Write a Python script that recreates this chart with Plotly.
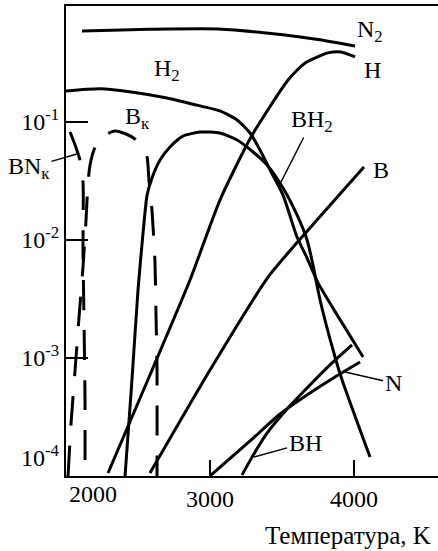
import math
import plotly.graph_objects as go

# Temperatures (K) and mole fractions
n2_t = [2111, 2583, 3056, 3521, 3750, 4007]
n2_x = [0.590, 0.610, 0.614, 0.546, 0.500, 0.441]

h2_t = [2000, 2236, 2465, 2701, 2931, 3069, 3188, 3278, 3347, 3417, 3507, 3604, 3674, 3750, 3875, 4063]
h2_x = [0.183, 0.191, 0.179, 0.160, 0.137, 0.124, 0.104, 0.0807, 0.0579, 0.0392, 0.0240, 0.0106, 0.00703, 0.00433, 0.00240, 0.00102]

bh2_t = [2410, 2458, 2500, 2535, 2563, 2597, 2653, 2722, 2812, 2931, 3069, 3188, 3299, 3396, 3507, 3604, 3674, 3715, 3764, 3868, 3917, 4111]
bh2_x = [1.0e-4, 6.52e-4, 3.77e-3, 0.0115, 0.0240, 0.0335, 0.0476, 0.0614, 0.0760, 0.0822, 0.0807, 0.0703,
         0.0557, 0.0432, 0.0276, 0.0163, 0.0100, 0.00614, 0.00310, 0.00102, 6.52e-4, 1.45e-4]

h_t = [2292, 2583, 2861, 3069, 3285, 3542, 3660, 3819, 3910, 4007]
h_x = [1.06e-4, 7.18e-4, 4.58e-3, 0.0218, 0.0746, 0.227, 0.316, 0.385, 0.392, 0.356]

b_t = [2583, 3000, 3403, 3694, 4069]
b_x = [1.06e-4, 7.91e-4, 4.85e-3, 0.01265, 0.0416]

n_t = [3000, 3278, 3486, 3694, 3868, 4042]
n_x = [1.0e-4, 1.98e-4, 3.35e-4, 5.05e-4, 6.90e-4, 9.24e-4]

bh_t = [3222, 3313, 3396, 3535, 3694, 3833, 3986]
bh_x = [1.02e-4, 1.60e-4, 2.31e-4, 3.70e-4, 5.90e-4, 8.73e-4, 1.29e-3]

# condensed phases (dashed)
bnk_t = [2028, 2063, 2097, 2118, 2118, 2125, 2132, 2132]
bnk_x = [0.0822, 0.0638, 0.0476, 0.0310, 0.00822, 0.00210, 4.41e-4, 1.0e-4]

bk_t = [2014, 2035, 2063, 2090, 2118, 2139, 2153, 2167, 2194, 2229, 2271, 2340, 2417, 2479, 2528,
        2563, 2576, 2597, 2618, 2625, 2632, 2632]
bk_x = [1.0e-4, 2.81e-4, 7.91e-4, 2.18e-3, 5.90e-3, 0.01475, 0.0310, 0.0432, 0.0579, 0.0703, 0.0776,
        0.0840, 0.0791, 0.0718, 0.0627, 0.0505, 0.0322, 0.0179, 0.00638, 0.00231, 7.91e-4, 1.0e-4]

x_ticks = [3000, 4000]
y_ticks = [0.1, 0.01, 0.001]
y_ticktext = ["10<sup>-1</sup>", "10<sup>-2</sup>", "10<sup>-3</sup>"]

FONT = "Liberation Serif"

fig = go.Figure()

solid = [(n2_t, n2_x), (h2_t, h2_x), (bh2_t, bh2_x), (h_t, h_x), (b_t, b_x), (n_t, n_x), (bh_t, bh_x)]
for t, x in solid:
    fig.add_trace(go.Scatter(x=t, y=x, mode="lines",
                             line=dict(color="black", width=3, shape="spline", smoothing=0.6),
                             hoverinfo="skip", showlegend=False))

for t, x in [(bnk_t, bnk_x), (bk_t, bk_x)]:
    fig.add_trace(go.Scatter(x=t, y=x, mode="lines",
                             line=dict(color="black", width=3, dash="30px,20px", shape="spline", smoothing=0.6),
                             hoverinfo="skip", showlegend=False))

lab = dict(showarrow=False, font=dict(family=FONT, size=24, color="black"))
fig.add_annotation(text="N<sub>2</sub>", xref="paper", yref="paper", x=0.777, y=0.947, xanchor="left", yanchor="middle", **lab)
fig.add_annotation(text="H", xref="paper", yref="paper", x=0.823, y=0.864, xanchor="center", yanchor="middle", **lab)
fig.add_annotation(text="H<sub>2</sub>", xref="paper", yref="paper", x=0.231, y=0.864, xanchor="left", yanchor="middle", **lab)
fig.add_annotation(text="B", xref="paper", yref="paper", x=0.847, y=0.651, xanchor="center", yanchor="middle", **lab)
fig.add_annotation(text="B<sub>к</sub>", xref="paper", yref="paper", x=0.153, y=0.762, xanchor="left", yanchor="middle", **lab)
fig.add_annotation(text="10<sup>-4</sup>", xref="paper", yref="paper", x=-0.011, y=0.043, xanchor="right", yanchor="middle", **lab)
fig.add_annotation(text="2000", xref="paper", yref="paper", x=0.003, y=-0.038, xanchor="left", yanchor="middle", **lab)
fig.add_annotation(text="Температура, K", xref="paper", yref="paper", x=0.987, y=-0.126, xanchor="right", yanchor="middle",
                   showarrow=False, font=dict(family=FONT, size=25, color="black"))

# labels with leader lines
lead = dict(showarrow=True, arrowhead=0, arrowwidth=1.5, arrowcolor="black", standoff=0,
            font=dict(family=FONT, size=24, color="black"))
fig.add_annotation(text="BN<sub>к</sub>", x=2076, y=math.log10(0.0536), ax=-48, ay=14, **lead)
fig.add_annotation(text="BH<sub>2</sub>", x=3493, y=math.log10(0.031), ax=31, ay=-61, **lead)
fig.add_annotation(text="N", x=3938, y=math.log10(7.6e-4), ax=48, ay=11, **lead)
fig.add_annotation(text="BH", x=3306, y=math.log10(1.45e-4), ax=51, ay=-14, **lead)

fig.update_xaxes(range=[2000, 4583], showgrid=False, zeroline=False, automargin=False,
                 showline=True, linecolor="black", linewidth=2, mirror=True,
                 ticks="inside", ticklen=16, tickwidth=2, tickcolor="black",
                 tickvals=x_ticks, tickfont=dict(family=FONT, size=24, color="black"))
fig.update_yaxes(type="log", range=[-4, -0.017], showgrid=False, zeroline=False, automargin=False,
                 showline=True, linecolor="black", linewidth=2,
                 ticks="inside", ticklen=22, tickwidth=2, tickcolor="black",
                 tickvals=y_ticks, ticktext=y_ticktext, tickfont=dict(family=FONT, size=24, color="black"))

fig.update_layout(width=438, height=551, margin=dict(l=66, r=0, t=6, b=75),
                  plot_bgcolor="white", paper_bgcolor="white", showlegend=False)

# drop the browser's default body margin so the figure sits at the page corner
fig.write_html("out.html", config={"displayModeBar": False},
               post_script="document.body.style.margin='0';")
